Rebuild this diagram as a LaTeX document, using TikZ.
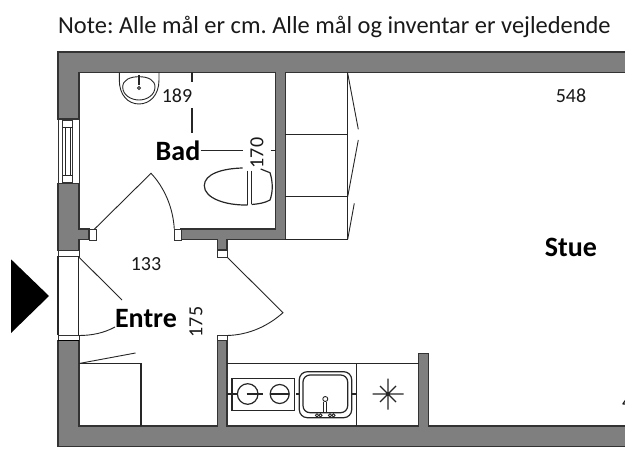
\documentclass[tikz,border=0pt]{standalone}
\usepackage{fontspec}
\setmainfont{Carlito}
\frenchspacing
\definecolor{wallgray}{HTML}{7F7F7F}
\tikzset{
  wall/.style={fill=wallgray,draw=black!80,line width=1.1pt,line join=miter},
  plan/.style={draw=black!85,line width=1.2pt},
  thin plan/.style={draw=black!85,line width=0.9pt},
  jamb/.style={fill=white,draw=black!80,line width=0.8pt},
  lbl/.style={font=\fontsize{20}{24}\selectfont,inner sep=0pt,text=black!90},
  room/.style={font=\fontsize{28}{32}\selectfont\bfseries,inner sep=0pt,text=black},
  note/.style={font=\fontsize{24.45}{28}\selectfont,inner sep=0pt,text=black!90,anchor=base west}
}
\begin{document}
\begin{tikzpicture}[x=1pt,y=-1pt]
\useasboundingbox[clip] (0,0) rectangle (625,460);
\fill[white] (0,0) rectangle (625,460);
% note
\node[note] (noteline) at (58,33.5) {Note: Alle mål er cm. Alle mål og inventar er vejledende};
% arrow
\fill[black] (11,259.3) -- (49,296) -- (11,333) -- cycle;
% top + left upper wall + bad walls
\path[wall] (630,52) -- (58,52) -- (58,119) -- (79,119) -- (79,72.3) -- (275.7,72.3) -- (275.7,229) -- (181,229) -- (181,239.3) -- (217.3,239.3) -- (217.3,250) -- (227,250) -- (227,239.3) -- (285.3,239.3) -- (285.3,72.3) -- (630,72.3) -- cycle;
% left middle wall
\path[wall] (58,183.3) -- (79,183.3) -- (79,229) -- (89,229) -- (89,239.3) -- (79,239.3) -- (79,250.5) -- (58,250.5) -- cycle;
% bottom wall
\path[wall] (58,340.5) -- (79,340.5) -- (79,426) -- (217.3,426) -- (217.3,340.5) -- (227,340.5) -- (227,426) -- (418.7,426) -- (418.7,353.3) -- (428.7,353.3) -- (428.7,426) -- (630,426) -- (630,446.7) -- (58,446.7) -- cycle;
% window
\path[jamb] (58,119) rectangle (79,183.3);
\path[jamb] (62.7,120) rectangle (72.7,182);
\draw[thin plan] (62.7,127) -- (72.7,127) (62.7,175) -- (72.7,175) (65,127) -- (65,175) (70.3,127) -- (70.3,175);
% jambs
\path[jamb] (89,229) rectangle (96,240);
\path[jamb] (174.3,229) rectangle (181,240);
\path[jamb] (217.3,250.5) rectangle (227,257);
\path[jamb] (217.3,335.3) rectangle (227,340.5);
\path[jamb] (58,250.5) rectangle (79,256);
\path[jamb] (58,335) rectangle (79,340.5);
\draw[line width=1.6pt,black] (58,340.5) -- (79,340.5);
% entry opening
\draw[plan] (58,256) -- (58,335) (78.8,256) -- (78.8,335);
% bad door
\draw[thin plan] (94.3,229.3) -- (151,173.3) .. controls (164,187) and (173,207) .. (174.3,229);
% entre door
\draw[thin plan] (78.8,257) -- (122,300);
\draw[thin plan] (78.8,335.5) .. controls (92,335.5) and (104,333) .. (115,327);
% stue door
\draw[thin plan] (227,257) -- (283,312.7) .. controls (268,326) and (249,335) .. (227,335.5);
% closet
\draw[plan] (79,363.5) -- (141,363.5) -- (141,426);
\draw[thin plan] (79,363.5) -- (135.5,353);
% cupboards
\draw[plan] (285.3,134.7) -- (347.7,134.7) (285.3,196.7) -- (347.7,196.7) (285.3,239.3) -- (347.7,239.3) (347.7,72.3) -- (347.7,239.3);
\draw[thin plan] (347.7,73.3) -- (358.3,129.3) (358.3,140) -- (347.7,196.7) (347.7,239.3) -- (354.3,203.3);
% sink in bath
\draw[thin plan] (119.3,72.3) -- (119.3,80) .. controls (119.3,95) and (128,104) .. (139,104) .. controls (150,104) and (159,95) .. (159,80) -- (159,72.3);
\draw[thin plan] (139,76.7) .. controls (148,76.7) and (155,80) .. (155,87) .. controls (155,95) and (147,100) .. (139,100) .. controls (131,100) and (122.7,95) .. (122.7,87) .. controls (122.7,80) and (130,76.7) .. (139,76.7);
\draw[line width=1.3pt,black!85] (139,75) -- (139,85);
\draw[thin plan] (139,88) circle[radius=1.5];
% dimension lines
\draw[plan] (192,72.3) -- (192,82.3) (192,108) -- (192,133);
\draw[plan] (200.7,150.3) -- (242.7,150.3) (270.7,150.3) -- (275.7,150.3);
% toilet
\draw[plan] (242.7,168) .. controls (222,168.5) and (204.3,174) .. (204.3,185.7) .. controls (204.3,198) and (225,205.5) .. (247.7,205);
\draw[plan] (247.7,170.7) -- (247.7,205) (251.7,170.7) -- (251.7,204.5);
\draw[plan] (260.7,169) -- (270,172.7) .. controls (273,182) and (273,192) .. (270,200) .. controls (265,203) and (258,204) .. (251.7,204.5);
% kitchen
\draw[plan] (227,363.3) -- (418.7,363.3) (356.3,363.3) -- (356.3,426);
\draw[plan] (232,378.7) rectangle (294.3,410.3);
\draw[plan] (247.7,394) circle[radius=10.3] (279.7,394) circle[radius=9.5];
\draw[plan] (227,394) -- (237,394) (246.7,394) -- (262.7,394) (270,394) -- (289.3,394) (296,394) -- (299.3,394) (351.7,394) -- (356.3,394);
\draw[plan,rounded corners=8pt] (299.3,371.7) rectangle (351.7,417.7);
\draw[plan,rounded corners=7pt] (303,375) rectangle (347.7,412.7);
\draw[thin plan] (325.3,399) circle[radius=2.5];
\draw[thin plan] (323.8,401.5) -- (323.8,413) (326.8,401.5) -- (326.8,413);
\draw[thin plan] (317,415.3) circle[radius=1.6] (320.5,415.3) circle[radius=1.6] (330,415.3) circle[radius=1.6] (333.5,415.3) circle[radius=1.6];
\draw[plan] (372.5,394) -- (403.5,394) (388,378.5) -- (388,409.5) (380,386) -- (396,402) (380,402) -- (396,386);
\fill[black!85] (388,394) circle[radius=1.6];
% labels
\node[lbl] (d189) at (177,96) {189};
\node[lbl,rotate=90] (d170) at (257,153) {170};
\node[lbl] (d133) at (146,264) {133};
\node[lbl,rotate=90] (d175) at (196,322) {175};
\node[lbl] (d548) at (571,96) {548};
\node[lbl,anchor=base west] (d4) at (622,408) {4};
\node[room] (bad) at (178,151) {Bad};
\node[room] (entre) at (146,319) {Entre};
\node[room] (stue) at (571,247) {Stue};
\end{tikzpicture}
\end{document}
